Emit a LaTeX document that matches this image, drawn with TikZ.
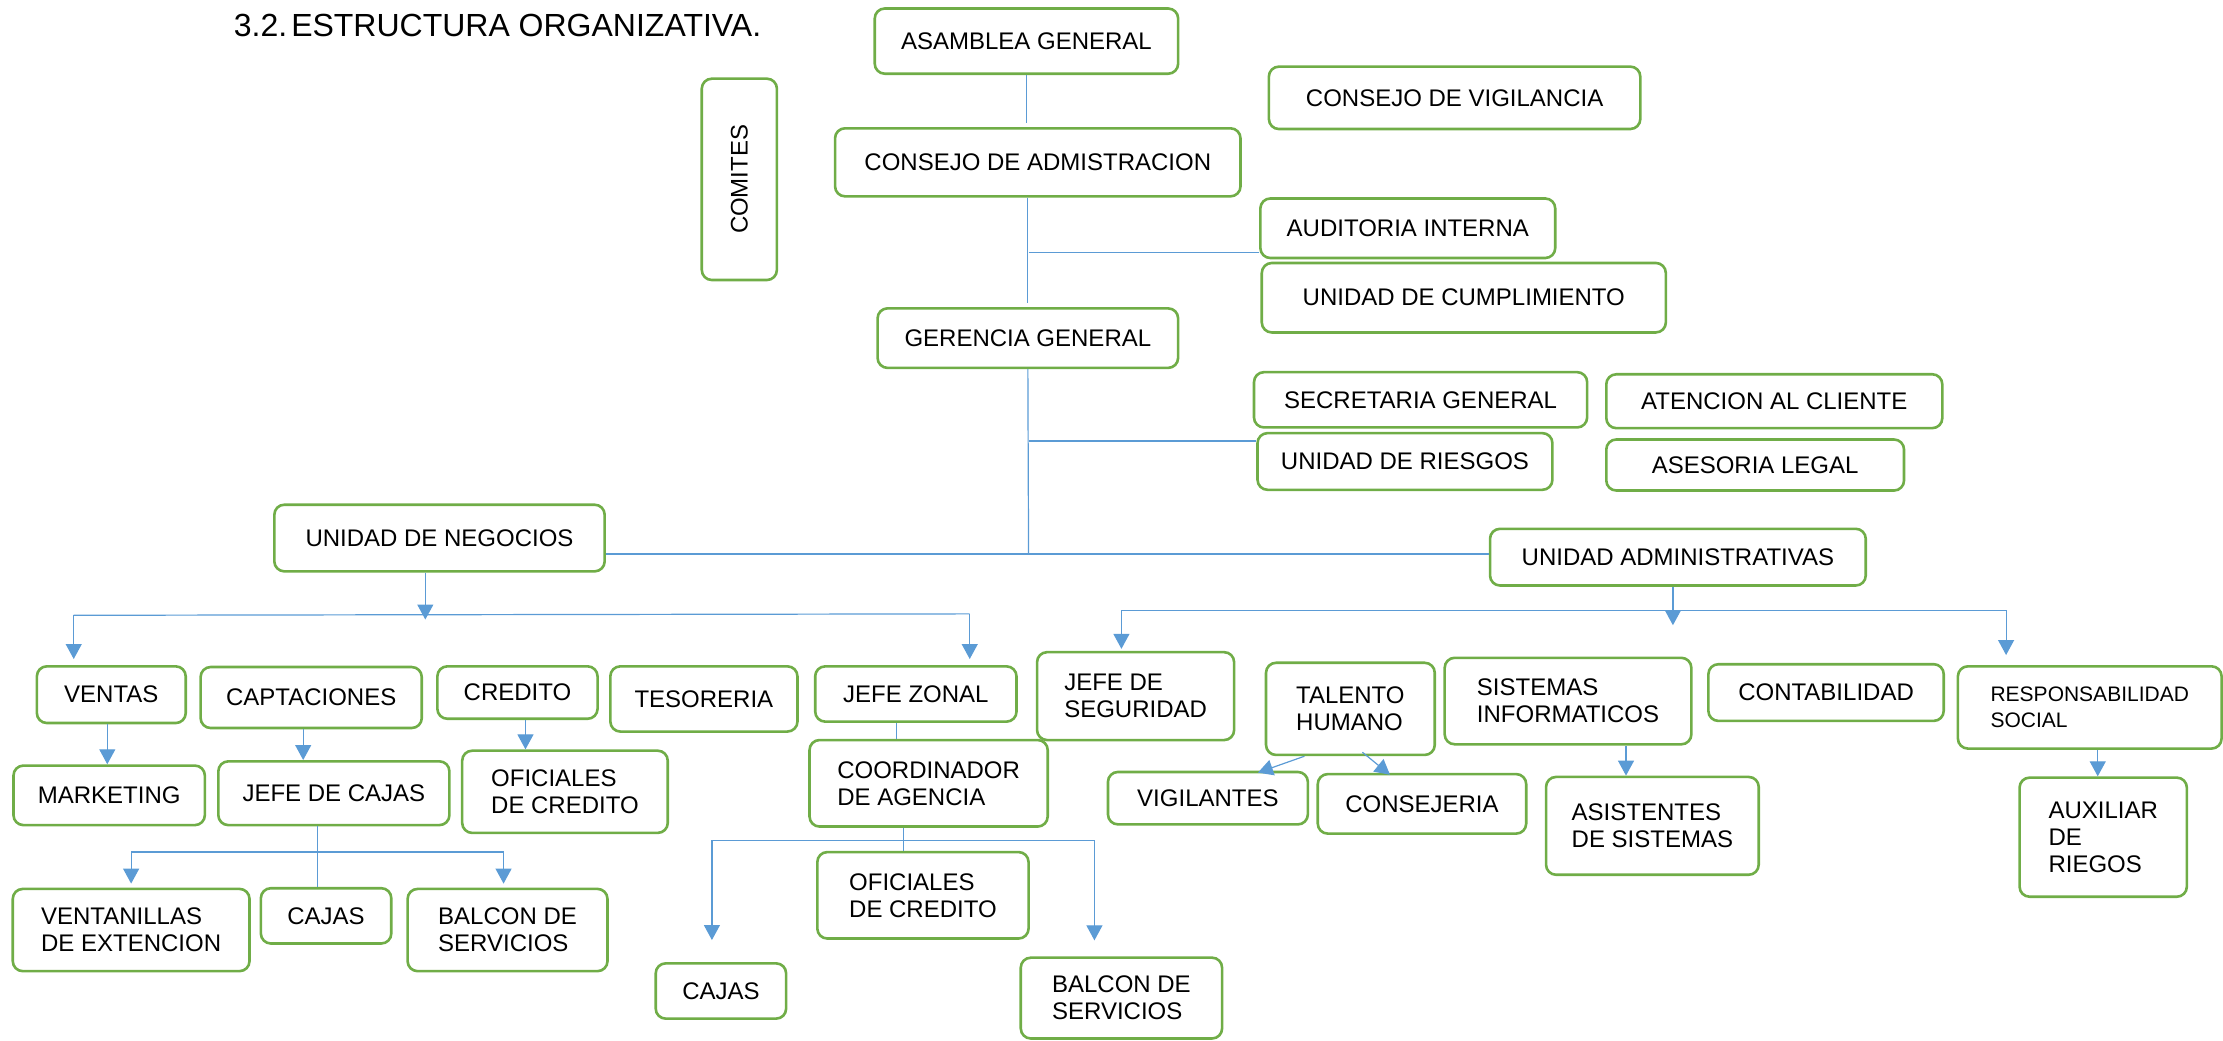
\documentclass[tikz,border=0pt]{standalone}
\usepackage{fontspec}
\setmainfont{Liberation Sans}
\usetikzlibrary{arrows.meta, positioning, calc}
\definecolor{boxgreen}{RGB}{112, 173, 71}
\definecolor{lineblue}{RGB}{91, 155, 213}

\tikzset{
    orgbox/.style={draw=boxgreen, line width=1.3pt, rounded corners=5pt, fill=white, align=left, inner sep=2pt, font=\fontsize{12}{13.5}\selectfont},
    sz/.style 2 args={minimum width=#1*0.709pt, minimum height=#2*0.709pt},
    link/.style={draw=lineblue, line width=0.6pt},
    arr/.style={link, -{Triangle[length=7.5pt, width=8pt]}}
}

\begin{document}
\begin{tikzpicture}[x=0.709pt, y=-0.709pt]
            \useasboundingbox (0,0) rectangle (1568,734.2);

            \node[anchor=base west, font=\fontsize{16}{19}\selectfont] (titulo) at (160,25.7) {3.2.\hspace{2pt}ESTRUCTURA ORGANIZATIVA.};

            \node[orgbox, sz={214}{46}] (asamblea) at (724,29) {ASAMBLEA GENERAL};
            \node[orgbox, sz={262}{44}] (vigilancia) at (1026,69) {CONSEJO DE VIGILANCIA};
            \node[orgbox, sz={53}{142}] (comites) at (521.5,126.5) {\rotatebox{90}{COMITES}};
            \node[orgbox, sz={286}{48}] (consejo) at (732,114.5) {CONSEJO DE ADMISTRACION};
            \node[orgbox, sz={208}{42}] (auditoria) at (993,161) {AUDITORIA INTERNA};
            \node[orgbox, sz={285}{49}] (cumplimiento) at (1032.5,210) {UNIDAD DE CUMPLIMIENTO};
            \node[orgbox, sz={212}{42}] (gerencia) at (725,238.5) {GERENCIA GENERAL};
            \node[orgbox, sz={235}{39}] (secretaria) at (1002,282) {SECRETARIA GENERAL};
            \node[orgbox, sz={237}{38}] (atencion) at (1251.5,283) {ATENCION AL CLIENTE};
            \node[orgbox, sz={208}{40}] (riesgos) at (991,325.5) {UNIDAD DE RIESGOS};
            \node[orgbox, sz={210}{36}] (asesoria) at (1238,328) {ASESORIA LEGAL};
            \node[orgbox, sz={233}{47}] (negocios) at (310,379.5) {UNIDAD DE NEGOCIOS};
            \node[orgbox, sz={265}{40}] (admin) at (1183.5,393) {UNIDAD ADMINISTRATIVAS};

            \node[orgbox, sz={105}{40}] (ventas) at (78.5,490) {VENTAS};
            \node[orgbox, sz={156}{43}] (captaciones) at (219.5,492) {CAPTACIONES};
            \node[orgbox, sz={113}{37}] (credito) at (365,488.5) {CREDITO};
            \node[orgbox, sz={132}{46}] (tesoreria) at (496.5,493) {TESORERIA};
            \node[orgbox, sz={142}{39}] (zonal) at (646,489.5) {JEFE ZONAL};
            \node[orgbox, sz={135}{42}] (marketing) at (77,561) {MARKETING};
            \node[orgbox, sz={163}{45}] (jcajas) at (235.5,559.5) {JEFE DE CAJAS};
            \node[orgbox, sz={145}{58}] (oficiales) at (398.5,558.5) {OFICIALES\\DE CREDITO};
            \node[orgbox, sz={168}{61}] (coord) at (655,552.5) {COORDINADOR\\DE AGENCIA};
            \node[orgbox, sz={167}{58}] (ventanillas) at (92.5,656) {VENTANILLAS\\DE EXTENCION};
            \node[orgbox, sz={92}{39}] (cajas) at (230,646) {CAJAS};
            \node[orgbox, sz={141}{58}] (balcon) at (358,656) {BALCON DE\\SERVICIOS};
            \node[orgbox, sz={149}{61}] (oficialesz) at (651,631.5) {OFICIALES\\DE CREDITO};
            \node[orgbox, sz={92}{39}] (cajasz) at (508.5,699) {CAJAS};
            \node[orgbox, sz={142}{57}] (balconz) at (791,704) {BALCON DE\\SERVICIOS};

            \node[orgbox, sz={139}{62}] (jseg) at (801,491) {JEFE DE\\SEGURIDAD};
            \node[orgbox, sz={119}{65}] (talento) at (952.5,500) {TALENTO\\HUMANO};
            \node[orgbox, sz={174}{61}] (sistemas) at (1106,494.5) {SISTEMAS\\INFORMATICOS};
            \node[orgbox, sz={166}{40}] (contab) at (1288,488.5) {CONTABILIDAD};
            \node[orgbox, sz={186}{58}, font=\fontsize{10.5}{13}\selectfont] (resp) at (1474,499) {RESPONSABILIDAD\\SOCIAL};
            \node[orgbox, sz={141}{37}] (vigilantes) at (852,563) {VIGILANTES};
            \node[orgbox, sz={147}{42}] (consejeria) at (1003,567) {CONSEJERIA};
            \node[orgbox, sz={150}{69}] (asistentes) at (1165.5,582.5) {ASISTENTES\\DE SISTEMAS};
            \node[orgbox, sz={118}{84}] (auxiliar) at (1483.5,590.5) {AUXILIAR\\DE\\RIEGOS};

            \coordinate (aud) at (725.5,178);
            \coordinate (rie) at (725.5,311);
            \coordinate (hub) at (725.5,390.8);
            \coordinate (nbT) at (300,437);
            \coordinate (nbL) at (52,434);
            \coordinate (nbR) at (684,433);
            \coordinate (jb) at (224,601);
            \coordinate (kb) at (637,593);
            \coordinate (abT) at (1180,441);
            \coordinate (abL) at (791,430.5);
            \coordinate (abR) at (1415,430.5);

            \draw[link, shorten >=2pt] (asamblea.south) -- (asamblea.south |- consejo.north);
            \draw[link, shorten >=2pt] (gerencia.north |- consejo.south) -- (gerencia.north);
            \draw[link] (aud) -- (aud -| auditoria.west);
            \draw[link] (gerencia.south) -- (hub);
            \draw[link] (rie) -- (rie -| riesgos.west);
            \draw[link] (hub -| negocios.east) -- (hub -| admin.west);

            \draw[arr] (nbT |- negocios.south) -- (nbT);
            \draw[link] (nbL) -- (nbR);
            \draw[arr, shorten >=3pt] (nbL) -- (nbL |- ventas.north);
            \draw[arr, shorten >=3pt] (nbR) -- (nbR |- zonal.north);
            \draw[arr] ([xshift=-2pt]ventas.south) coordinate (t) -- (t |- marketing.north);
            \draw[arr] ([xshift=-4pt]captaciones.south) coordinate (t) -- (t |- jcajas.north);
            \draw[arr] ([xshift=4pt]credito.south) coordinate (t) -- (t |- oficiales.north);
            \draw[link] ([xshift=-9.5pt]zonal.south) coordinate (t) -- (t |- coord.north);

            \draw[link] (jb |- jcajas.south) -- (jb |- cajas.north);
            \draw[arr, shorten >=2pt] (jb) -| (ventanillas.north);
            \draw[arr, shorten >=2pt] (jb) -| ([xshift=-2pt]balcon.north);

            \draw[link] (kb |- coord.south) -- (kb |- oficialesz.north);
            \draw[arr, shorten >=11pt] (kb) -| ([xshift=-4.5pt]cajasz.north);
            \draw[arr, shorten >=8pt] (kb) -| ([xshift=-13.5pt]balconz.north);

            \draw[arr] (abT |- admin.south) -- (abT);
            \draw[link] (abL) -- (abR);
            \draw[arr, shorten >=1pt] (abL) -- (abL |- jseg.north);
            \draw[arr, shorten >=5pt] (abR) -- (abR |- resp.north);
            \draw[arr] ([xshift=-23pt]talento.south) -- ([xshift=25pt, yshift=-1pt]vigilantes.north);
            \draw[arr] ([xshift=6pt, yshift=2pt]talento.south) -- ([xshift=-16pt, yshift=-1pt]consejeria.north);
            \draw[arr] ([xshift=29pt]sistemas.south) coordinate (t) -- (t |- asistentes.north);
            \draw[arr] ([xshift=4pt]resp.south) coordinate (t) -- (t |- auxiliar.north);
        \end{tikzpicture}
\end{document}
